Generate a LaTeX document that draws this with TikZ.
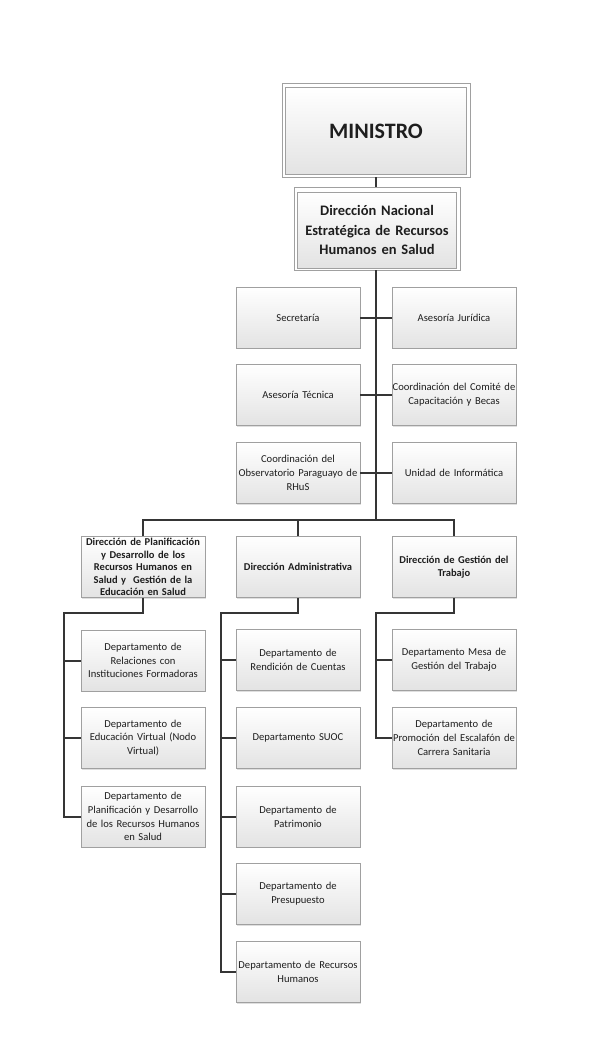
\documentclass[tikz,border=0pt]{standalone}
\usepackage{fontspec}
\setmainfont{Carlito}
\usetikzlibrary{shadows,calc}
\definecolor{boxline}{HTML}{A0A0A0}
\definecolor{conncol}{HTML}{353535}
\definecolor{txt}{HTML}{1E1E1E}
\tikzset{
 box/.style={draw=boxline, line width=0.7pt, top color=white, bottom color=black!11,
   drop shadow={shadow xshift=1.2pt,shadow yshift=-1.2pt,opacity=0.25},
   minimum width=124pt, minimum height=61pt, inner sep=0pt, align=center,
   text width=124pt, font=\fontsize{10.6}{13.8}\selectfont, text=txt},
 bbox/.style={box, font=\fontsize{10.5}{12.4}\selectfont\bfseries},
 outerbox/.style={draw=boxline, line width=0.7pt, fill=white,
   drop shadow={shadow xshift=1.2pt,shadow yshift=-1.2pt,opacity=0.25}, inner sep=0pt},
 innerbox/.style={draw=boxline, line width=0.7pt, top color=white, bottom color=black!11,
   inner sep=0pt, align=center, text=txt},
 link/.style={draw=conncol, line width=2pt},
}
\begin{document}
\begin{tikzpicture}[x=1pt,y=-1pt]
\useasboundingbox (0,0) rectangle (595,1060);
% top
\node[outerbox, minimum width=188pt, minimum height=94pt] (minout) at (376,130) {};
\node[innerbox, minimum width=181pt, minimum height=87pt, font=\fontsize{22}{26}\selectfont\bfseries] (min) at (376,131) {MINISTRO};
\node[outerbox, minimum width=166pt, minimum height=83pt] (dnout) at (377,228.5) {};
\node[innerbox, minimum width=159pt, minimum height=76pt, text width=159pt, font=\fontsize{14.5}{19.5}\selectfont\bfseries] (dn) at (377,230) {Dirección Nacional\\Estratégica de Recursos\\Humanos en Salud};
% assistants
\node[box] (a1) at (298,317.5) {Secretaría};
\node[box] (b1) at (454,317.5) {Asesoría Jurídica};
\node[box] (a2) at (298,395) {Asesoría Técnica};
\node[box] (b2) at (454,395) {Coordinación del Comité de\\Capacitación y Becas};
\node[box] (a3) at (298,473) {Coordinación del\\Observatorio Paraguayo de\\RHuS};
\node[box] (b3) at (454,473) {Unidad de Informática};
% level 2
\node[bbox] (p) at (143,567) {Dirección de Planificación\\y Desarrollo de los\\Recursos Humanos en\\Salud y\ \ Gestión de la\\Educación en Salud};
\node[bbox] (ad) at (298,567) {Dirección Administrativa};
\node[bbox] (g) at (454,567) {Dirección de Gestión del\\Trabajo};
% plan children
\node[box] (p1) at (143,660.5) {Departamento de\\Relaciones con\\Instituciones Formadoras};
\node[box] (p2) at (143,738) {Departamento de\\Educación Virtual (Nodo\\Virtual)};
\node[box] (p3) at (143,816.5) {Departamento de\\Planificación y Desarrollo\\de los Recursos Humanos\\en Salud};
% admin children
\node[box] (d1) at (298,660) {Departamento de\\Rendición de Cuentas};
\node[box] (d2) at (298,738) {Departamento SUOC};
\node[box] (d3) at (298,816.5) {Departamento de\\Patrimonio};
\node[box] (d4) at (298,894) {Departamento de\\Presupuesto};
\node[box] (d5) at (298,972) {Departamento de Recursos\\Humanos};
% gestion children
\node[box] (g1) at (454,660) {Departamento Mesa de\\Gestión del Trabajo};
\node[box] (g2) at (454,738) {Departamento de\\Promoción del Escalafón de\\Carrera Sanitaria};
% connectors
\coordinate (j) at (376,520);
\coordinate (pb) at (64,613);
\coordinate (ab) at (221,613);
\coordinate (gb) at (376,613);
\draw[link] (minout.south) -- (minout.south |- dnout.north);
\draw[link] (j |- dnout.south) -- (j);
\draw[link] (a1.east) -- (b1.west);
\draw[link] (a2.east) -- (b2.west);
\draw[link] (a3.east) -- (b3.west);
\draw[link] (p.north) -- (p.north |- j) -| (g.north);
\draw[link] (ad.north) -- (ad.north |- j);
\draw[link] (p.south) |- (pb) |- (p3.west);
\draw[link] (p1.west) -- (pb |- p1.west);
\draw[link] (p2.west) -- (pb |- p2.west);
\draw[link] (ad.south) |- (ab) |- (d5.west);
\draw[link] (d1.west) -- (ab |- d1.west);
\draw[link] (d2.west) -- (ab |- d2.west);
\draw[link] (d3.west) -- (ab |- d3.west);
\draw[link] (d4.west) -- (ab |- d4.west);
\draw[link] (g.south) |- (gb) |- (g2.west);
\draw[link] (g1.west) -- (gb |- g1.west);
\end{tikzpicture}
\end{document}
